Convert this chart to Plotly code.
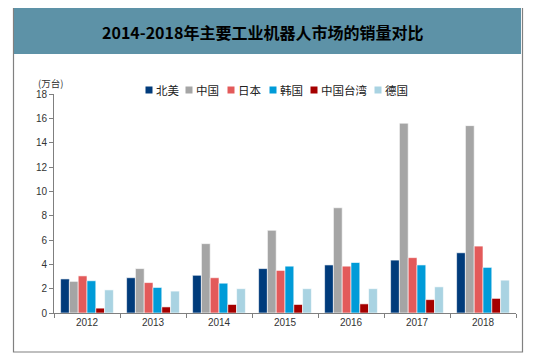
import plotly.graph_objects as go

years = ["2012", "2013", "2014", "2015", "2016", "2017", "2018"]
series_names = ["北美", "中国", "日本", "韩国", "中国台湾", "德国"]
north_america = [2.8, 2.9, 3.1, 3.65, 3.95, 4.35, 4.95]
china = [2.6, 3.65, 5.7, 6.8, 8.65, 15.6, 15.4]
japan = [3.05, 2.5, 2.9, 3.5, 3.85, 4.55, 5.5]
korea = [2.65, 2.1, 2.45, 3.85, 4.15, 3.95, 3.75]
taiwan = [0.4, 0.5, 0.7, 0.7, 0.75, 1.1, 1.2]
germany = [1.9, 1.8, 2.0, 2.0, 2.0, 2.15, 2.7]
series_values = [north_america, china, japan, korea, taiwan, germany]
colors = ["#003B7B", "#A5A5A5", "#E35A5A", "#009BD8", "#A50000", "#A9D3E2"]
y_ticks = [0, 2, 4, 6, 8, 10, 12, 14, 16, 18]
title_text = "2014-2018年主要工业机器人市场的销量对比"
unit_text = "(万台)"

# page has an 8px body margin; lay out in screen pixels and shift
OFF = 8
W, H = 536 - OFF, 359 - OFF
PX0, PX1, PY0, PY1 = 54, 516, 94, 313   # plot area in screen pixels
L, R, T, B = PX0 - OFF, W - (PX1 - OFF), PY0 - OFF, H - (PY1 - OFF)
PW, PH = PX1 - PX0, PY1 - PY0


def px(x):
    return (x - PX0) / PW


def py(y):
    return (PY1 - y) / PH


fig = go.Figure()
for name, vals, c in zip(series_names, series_values, colors):
    fig.add_trace(go.Bar(x=years, y=vals, name=name,
                         marker=dict(color=c, line=dict(color="white", width=0.6))))

shapes = [
    dict(type="rect", xref="paper", yref="paper", x0=px(13.5), x1=px(522.5), y0=py(352), y1=py(6.5),
         line=dict(color="#808080", width=1.2), fillcolor="rgba(0,0,0,0)", layer="below"),
    dict(type="rect", xref="paper", yref="paper", x0=px(14), x1=px(521), y0=py(54), y1=py(8),
         line=dict(width=0), fillcolor="#5D92A7", layer="below"),
]

annotations = [
    dict(text="<b>" + title_text + "</b>", xref="paper", yref="paper", x=px(262), y=py(32),
         showarrow=False, font=dict(family="Noto Sans CJK SC", size=16, color="#000000"),
         xanchor="center", yanchor="middle"),
    dict(text=unit_text, xref="paper", yref="paper", x=px(50), y=py(83),
         showarrow=False, font=dict(family="Noto Sans CJK SC", size=9.5, color="#333333"),
         xanchor="center", yanchor="middle"),
]

legend_sq_x = [149, 189, 231, 273, 314, 378]
legend_y = 90
for name, c, sx in zip(series_names, colors, legend_sq_x):
    shapes.append(dict(type="rect", xref="paper", yref="paper",
                       x0=px(sx - 3.5), x1=px(sx + 3.5), y0=py(legend_y + 3.5), y1=py(legend_y - 3.5),
                       line=dict(width=0), fillcolor=c))
    annotations.append(dict(text=name, xref="paper", yref="paper", x=px(sx + 5), y=py(legend_y),
                            showarrow=False, xanchor="left", yanchor="middle",
                            font=dict(family="Noto Sans CJK SC", size=11.5, color="#222222")))

fig.update_layout(
    width=W, height=H,
    margin=dict(l=L, r=R, t=T, b=B),
    paper_bgcolor="white", plot_bgcolor="white",
    barmode="group", bargap=0.2, bargroupgap=0,
    showlegend=False,
    shapes=shapes, annotations=annotations,
    xaxis=dict(type="category", showline=True, linecolor="#7F7F7F", linewidth=1,
               ticks="outside", tickson="boundaries", ticklen=4, tickcolor="#7F7F7F",
               showgrid=False, tickfont=dict(family="Liberation Sans", size=10, color="#333333")),
    yaxis=dict(range=[0, 18], tickvals=y_ticks, showline=True, linecolor="#7F7F7F", linewidth=1,
               ticks="outside", ticklen=4, tickcolor="#7F7F7F", showgrid=False, zeroline=False,
               tickfont=dict(family="Liberation Sans", size=10, color="#333333")),
)

fig.write_html("out.html")
